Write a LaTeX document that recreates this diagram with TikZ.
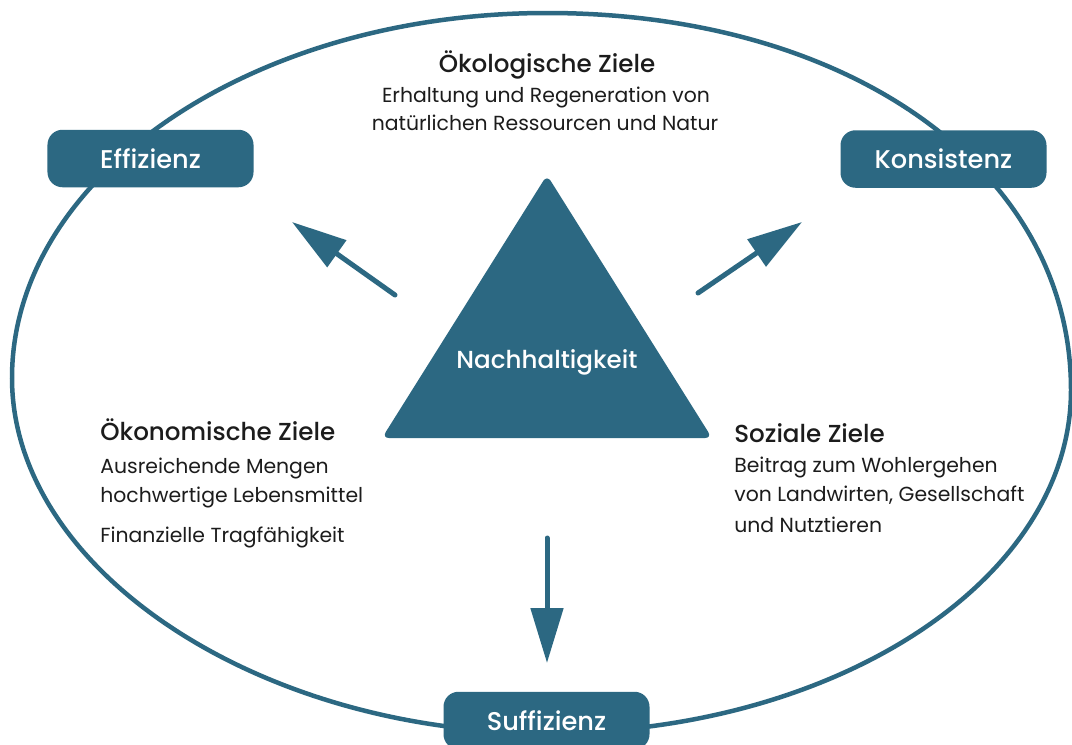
\documentclass[tikz,border=0pt]{standalone}
\usepackage{fontspec}
\setmainfont{Poppins}
\newfontfamily\ttlfont{Poppins Medium}
\usetikzlibrary{arrows.meta}
\definecolor{nteal}{RGB}{44,104,130}
\definecolor{ntext}{RGB}{28,28,28}
\begin{document}
\begin{tikzpicture}[x=0.2mm,y=-0.2mm,
  lbox/.style={fill=nteal, draw=none, rounded corners=3mm, minimum width=41.2mm,
    minimum height=11.5mm, text=white, inner sep=0pt, font=\ttlfont\fontsize{14.6}{18}\selectfont},
  arr/.style={line width=1mm, nteal, line cap=round, -{Triangle[length=11mm,width=6.4mm]}},
  ttl/.style={text=ntext, inner sep=0pt, anchor=base, font=\ttlfont\fontsize{14}{17}\selectfont},
  body/.style={text=ntext, inner sep=0pt, anchor=base, font=\fontsize{11.6}{14}\selectfont},
  ring/.style={draw=nteal, line width=0.9mm}
]
\useasboundingbox (0,0) rectangle (1072,744);
\fill[white] (0,0) rectangle (1072,744);
% outer ring
\coordinate (ot) at (547,13);
\coordinate (or) at (1071,390);
\coordinate (ob) at (547,733);
\coordinate (ol) at (12,378);
\draw[ring] (ot) .. controls (851,13) and (1071,171) .. (or)
  .. controls (1071,579.4) and (836.4,733) .. (ob)
  .. controls (258.1,733) and (12,569.7) .. (ol)
  .. controls (12,176.4) and (251.5,13) .. (ot) -- cycle;
% triangle
\coordinate (ta) at (547,175);
\coordinate (tr) at (712,438);
\coordinate (tl) at (382,438);
\coordinate (tm) at (547,438);
\fill[nteal, rounded corners=1.4mm] (tm) -- (tr) -- (ta) -- (tl) -- cycle;
\node[inner sep=0pt, anchor=base, text=white, font=\ttlfont\fontsize{14}{17}\selectfont] (nach) at (547,368) {Nachhaltigkeit};
% boxes
\node[lbox] (eff) at (150.5,158.5) {Effizienz};
\node[lbox] (kon) at (943.5,159) {Konsistenz};
\node[lbox] (suf) at (546.5,720.5) {Suffizienz};
% arrows
\coordinate (l1) at (395,295); \coordinate (l2) at (292,222);
\coordinate (r1) at (698,293); \coordinate (r2) at (802,222);
\coordinate (d1) at (547,538); \coordinate (d2) at (547,663);
\draw[arr] (l1) -- (l2);
\draw[arr] (r1) -- (r2);
\draw[arr] (d1) -- (d2);
% top text
\node[ttl] (t1) at (547,72) {Ökologische Ziele};
\node[body] (t2) at (546,102) {Erhaltung und Regeneration von};
\node[body] (t3) at (545,130) {natürlichen Ressourcen und Natur};
% left text
\node[ttl, anchor=base west] (e1) at (100,440) {Ökonomische Ziele};
\node[body, anchor=base west] (e2) at (100,473) {Ausreichende Mengen};
\node[body, anchor=base west] (e3) at (100,502) {hochwertige Lebensmittel};
\node[body, anchor=base west] (e4) at (100,542) {Finanzielle Tragfähigkeit};
% right text
\node[ttl, anchor=base west] (s1) at (734,442) {Soziale Ziele};
\node[body, anchor=base west] (s2) at (734,472) {Beitrag zum Wohlergehen};
\node[body, anchor=base west] (s3) at (734,501) {von Landwirten, Gesellschaft};
\node[body, anchor=base west] (s4) at (734,532) {und Nutztieren};
\end{tikzpicture}
\end{document}
